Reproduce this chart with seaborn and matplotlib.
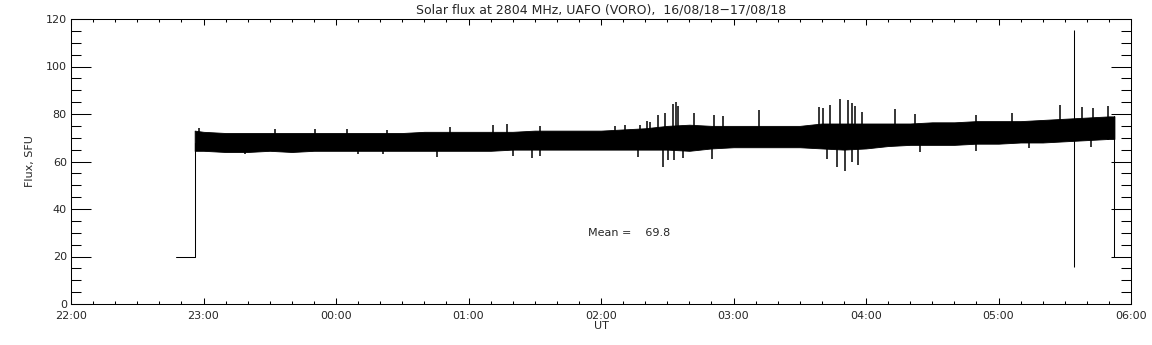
import matplotlib
matplotlib.use("Agg")
import matplotlib.pyplot as plt
from matplotlib.ticker import MultipleLocator, FuncFormatter
import seaborn as sns
import pandas as pd

# time in minutes after 22:00 UT
env_t = [56, 60, 70, 80, 90, 100, 110, 120, 130, 140, 150, 160, 170, 180, 190,
         200, 210, 220, 230, 240, 250, 260, 270, 280, 290, 300, 310, 320, 330,
         340, 350, 360, 370, 380, 390, 400, 410, 420, 430, 440, 450, 460, 470, 472.5]
env_hi = [73, 72.5, 72, 72, 72, 72, 72, 72, 72, 72, 72, 72.5, 72.5, 72.5, 72.5,
          72.5, 73, 73, 73, 73, 73.5, 74, 75, 75.5, 75, 75, 75, 75, 75,
          76, 76, 76, 76, 76, 76.5, 76.5, 77, 77, 77, 77.5, 78, 78.5, 79, 79]
env_lo = [64.5, 64.5, 64, 64, 64.5, 64, 64.5, 64.5, 64.5, 64.5, 64.5, 64.5, 64.5, 64.5, 64.5,
          65, 65, 65, 65, 65, 65, 65, 65, 64.5, 65.5, 66, 66, 66, 66,
          65.5, 65, 65.5, 66.5, 67, 67, 67, 67.5, 67.5, 68, 68, 68.5, 69, 69.5, 69.5]

# isolated spikes
up_t = [58, 92.4, 110.5, 124.8, 143, 171.6, 191.2, 197.6, 212.4, 246.3, 250.9,
        257.7, 260.7, 262.2, 266, 269, 272.5, 274, 275, 282, 291, 295.4, 311.7,
        338.9, 340.7, 343.7, 348.2, 352, 353.5, 355, 358, 373, 382, 410, 426,
        448, 458, 463, 469.6]
up_v = [74, 73.7, 73.5, 73.5, 73.3, 74.5, 75.5, 75.9, 75, 75, 75.5,
        75.5, 77, 76.5, 79.7, 80.4, 84.3, 84.9, 83.2, 80.4, 79.7, 79, 81.8,
        82.9, 82.5, 83.9, 86.3, 85.7, 84.5, 83.2, 81, 82.2, 80.1, 79.5, 80.4,
        83.9, 82.8, 82.5, 83.5]
dn_t = [78.8, 130.1, 141.4, 165.6, 200.3, 208.6, 212.4, 256.9, 268.2, 270.5,
        273, 277.3, 290.4, 342.2, 346.7, 350.5, 353.5, 356.5, 384.5, 410, 434, 462]
dn_v = [63.1, 63.3, 63, 62.1, 62.5, 61.5, 62.3, 62.1, 57.7, 60.7,
        60.7, 61.4, 61, 61, 57.7, 55.8, 60, 58.6, 64.2, 64.5, 65.5, 66]

# gap markers (flux set to 20 outside the record) and a single glitch
edge_t = [47.5, 56, 56]
edge_v = [20, 20, 68]
tail_t = [472.5, 472.5]
tail_v = [79, 20]
glitch_t = 454.3
glitch_lo, glitch_hi = 15.4, 115.4

mean_flux = 69.8
hour_labels = ["22:00", "23:00", "00:00", "01:00", "02:00", "03:00", "04:00", "05:00", "06:00"]

sns.set_style("ticks")
plt.rcParams["font.family"] = ["DejaVu Sans"]

fig = plt.figure(figsize=(11.52, 3.45), dpi=100)
ax = fig.add_axes([71 / 1152, 1 - 304 / 345, 1060 / 1152, 285 / 345])

lw = 0.75
ax.fill_between(env_t, env_lo, env_hi, color="black", lw=0.6, edgecolor="black")
ax.vlines(up_t, 69, up_v, color="black", lw=1.1)
ax.vlines(dn_t, dn_v, 69, color="black", lw=1.1)
ax.vlines(glitch_t, glitch_lo, glitch_hi, color="black", lw=lw)

edges = pd.DataFrame({"t": edge_t + tail_t, "v": edge_v + tail_v,
                      "seg": ["a"] * 3 + ["b"] * 2})
sns.lineplot(data=edges, x="t", y="v", units="seg", estimator=None, sort=False,
             color="black", lw=lw, ax=ax)

ax.set_xlim(0, 480)
ax.set_ylim(0, 120)
ax.xaxis.set_major_locator(MultipleLocator(60))
ax.xaxis.set_minor_locator(MultipleLocator(10))
ax.xaxis.set_major_formatter(FuncFormatter(lambda v, p: hour_labels[int(round(v / 60))]
                                           if 0 <= round(v / 60) < len(hour_labels) else ""))
ax.yaxis.set_major_locator(MultipleLocator(20))
ax.yaxis.set_minor_locator(MultipleLocator(5))

ax.tick_params(axis="both", which="both", direction="in", top=True, right=True,
               color="black", width=lw, labelsize=8)
ax.tick_params(axis="y", which="major", length=14.4, pad=3)
ax.tick_params(axis="y", which="minor", length=7.2)
ax.tick_params(axis="x", which="major", length=4.5, pad=5)
ax.tick_params(axis="x", which="minor", length=2.5)
for s in ax.spines.values():
    s.set_linewidth(lw)
    s.set_color("black")

ax.set_xlabel("UT", fontsize=8, labelpad=0)
ax.set_ylabel("Flux, SFU", fontsize=8, labelpad=8)
ax.set_title("Solar flux at 2804 MHz, UAFO (VORO),  16/08/18\u221217/08/18",
             fontsize=9, pad=4)
ax.text(234, 30, f"Mean =    {mean_flux}", fontsize=8, va="center", ha="left")

fig.savefig("out.png", dpi=100)
